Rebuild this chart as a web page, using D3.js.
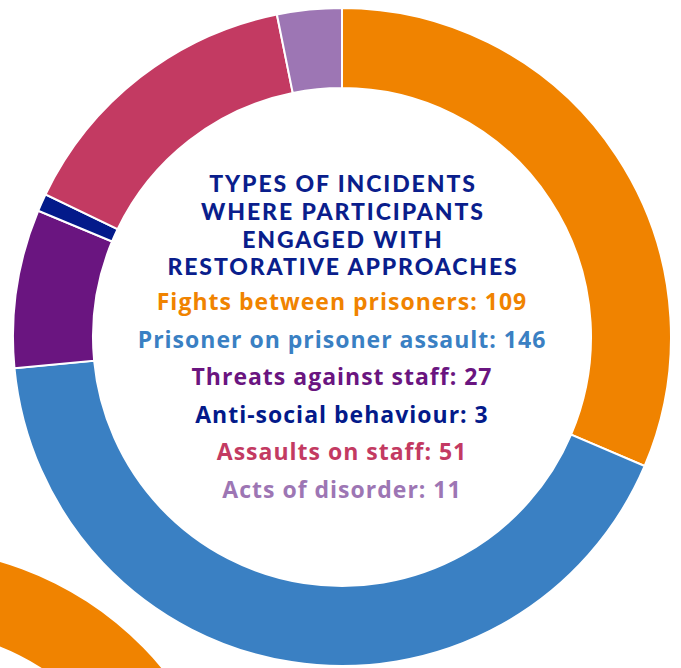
<!DOCTYPE html>
<html>
<head>
<meta charset="utf-8">
<script src="https://cdn.jsdelivr.net/npm/d3@7"></script>
<style>
  body { margin: 0; background: #fff; }
</style>
</head>
<body>
<div id="chart"></div>
<script>
// data
var categories = ["Fights between prisoners", "Prisoner on prisoner assault", "Threats against staff",
                  "Anti-social behaviour", "Assaults on staff", "Acts of disorder"];
var values = [109, 146, 27, 3, 51, 11];
var colours = ["#F08300", "#3A80C3", "#6A1580", "#031A8A", "#C33A62", "#9D76B4"];
var titleLines = ["TYPES OF INCIDENTS", "WHERE PARTICIPANTS", "ENGAGED WITH", "RESTORATIVE APPROACHES"];

var width = 681, height = 668;
var cx = 342, cy = 337, outerR = 329, innerR = 249;

var svg = d3.select("#chart")
  .append("svg")
    .attr("width", width)
    .attr("height", height);

// piece of the next ring peeking in at bottom left
svg.append("path")
  .attr("transform", "translate(-92,878)")
  .attr("d", d3.arc()({innerRadius: innerR, outerRadius: outerR, startAngle: -0.2, endAngle: Math.PI / 2}))
  .style("fill", colours[0]);

var pie = d3.pie().sort(null).value(function(d) { return d; });
var arc = d3.arc().innerRadius(innerR).outerRadius(outerR);

var g = svg.append("g")
  .attr("transform", "translate(" + cx + "," + cy + ")");

g.selectAll("path")
  .data(pie(values))
  .enter()
  .append("path")
    .attr("d", arc)
    .style("fill", function(d, i) { return colours[i]; })
    .style("stroke", "white")
    .style("stroke-width", 2);

// title
g.selectAll(".title")
  .data(titleLines)
  .enter()
  .append("text")
    .attr("class", "title")
    .attr("x", 1)
    .attr("y", function(d, i) { return -145 + i * 27.8; })
    .attr("text-anchor", "middle")
    .style("font-family", "Lato, sans-serif")
    .style("font-weight", 900)
    .style("font-size", "23px")
    .style("letter-spacing", "1.9px")
    .style("fill", "#0A1E8C")
    .text(function(d) { return d; });

// category labels
g.selectAll(".label")
  .data(categories)
  .enter()
  .append("text")
    .attr("class", "label")
    .attr("x", 0)
    .attr("y", function(d, i) { return -27 + i * 37.5; })
    .attr("text-anchor", "middle")
    .style("font-family", "'Open Sans', sans-serif")
    .style("font-weight", 700)
    .style("font-size", "23px")
    .style("letter-spacing", "1px")
    .style("fill", function(d, i) { return colours[i]; })
    .text(function(d, i) { return d + ": " + values[i]; });
</script>
</body>
</html>
